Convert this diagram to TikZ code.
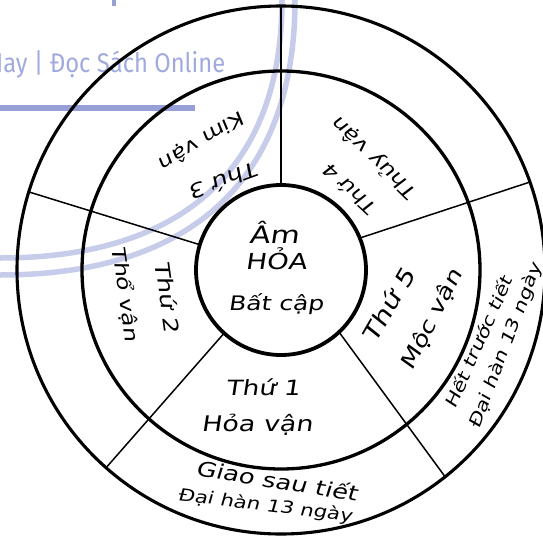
\documentclass[tikz,border=0pt]{standalone}
\usepackage{fontspec}
\newfontfamily\hand[FakeSlant=0.15,FakeStretch=1.25]{DejaVu Sans}
\newfontfamily\wmfont[FakeStretch=0.88]{Fira Sans}
\definecolor{wmtext}{RGB}{160,170,222}
\definecolor{wmline}{RGB}{150,160,215}
\definecolor{wmarc}{RGB}{198,204,234}
\tikzset{
  ring/.style={draw=black, line width=3pt},
  spoke/.style={draw=black, line width=1.5pt},
  lbl/.style={inner sep=0pt, text=black},
  fs/.style={font=\hand\fontsize{#1}{#1}\selectfont},
  wmarcline/.style={draw=wmarc, line width=5.5pt},
}
\begin{document}
\begin{tikzpicture}[x=1pt,y=-1pt]
\useasboundingbox (0,0) rectangle (543,535);
\clip (0,0) rectangle (543,535);
% watermark
\draw[wmarcline] (282,-10) -- (282,0) .. controls (282,168) and (183,258) .. (0,258) -- (-10,258);
\draw[wmarcline] (295,-10) -- (295,0) .. controls (295,179) and (192,275) .. (0,275) -- (-10,275);
\node[anchor=base west, inner sep=0pt, text=wmtext, font=\wmfont\fontsize{27}{27}\selectfont] (wm) at (-13,72) {Hay | Đọc Sách Online};
\fill[wmline] (0,105) rectangle (195,111);
\fill[wmline] (112,0) rectangle (116,6);
% centre
\coordinate (O) at (281,270);
\draw[ring, line width=3.1pt] (O) circle[radius=264];
\draw[ring, line width=3.3pt] (O) circle[radius=199];
\draw[ring, line width=3.8pt] (O) circle[radius=85];
% spoke end points
\coordinate (s1i) at (281,185); \coordinate (s1o) at (281,6);
\coordinate (s2i) at (199.8,244.7); \coordinate (s2o) at (28.8,191.9);
\coordinate (s3i) at (360,238); \coordinate (s3o) at (530,182);
\coordinate (s4i) at (224.1,333.2); \coordinate (s4o) at (106.1,467.7);
\coordinate (s5i) at (339,332); \coordinate (s5o) at (446,478);
\draw[spoke] (s1i) -- (s1o);
\draw[spoke] (s2i) -- (s2o);
\draw[spoke] (s3i) -- (s3o);
\draw[spoke] (s4i) -- (s4o);
\draw[spoke] (s5i) -- (s5o);
% centre texts
\node[lbl, fs=24] (am) at (274,232) {Âm};
\node[lbl, fs=22] (hoa) at (276,259) {HỎA};
\node[lbl, fs=20] (batcap) at (276,304) {Bất cập};
% inner ring texts
\node[lbl, fs=21] (thu1) at (263,387) {Thứ 1};
\node[lbl, fs=21.5] (hoavan) at (257,425) {Hỏa vận};
\node[lbl, fs=20.5, rotate=-82] (thu2) at (168,297) {Thứ 2};
\node[lbl, fs=19, rotate=-82] (thovan) at (125,294) {Thổ vận};
\node[lbl, fs=20, rotate=200] (thu3) at (225,181) {Thứ 3};
\node[lbl, fs=19, rotate=211] (kimvan) at (202,140) {Kim vận};
\node[lbl, fs=18.5, rotate=137] (thu4) at (350,190) {Thứ 4};
\node[lbl, fs=19, rotate=136] (thuyvan) at (375,158) {Thủy vận};
\node[lbl, fs=23, rotate=60] (thu5) at (388,305) {Thứ 5};
\node[lbl, fs=21, rotate=63] (mocvan) at (432,320) {Mộc vận};
% outer ring texts
\node[lbl, fs=17, rotate=66] (hettruoc) at (478,342) {Hết trước tiết};
\node[lbl, fs=17, rotate=69] (daihanA) at (506,346) {Đại hàn 13 ngày};
\node[lbl, fs=20.5, rotate=-9] (giaosau) at (277,480) {Giao sau tiết};
\node[lbl, fs=17, rotate=-7] (daihanB) at (265,506) {Đại hàn 13 ngày};
\end{tikzpicture}
\end{document}
